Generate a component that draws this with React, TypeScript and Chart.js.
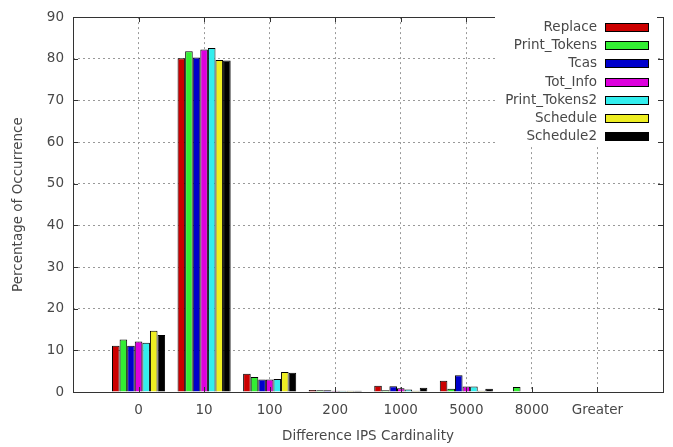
import React, { useEffect, useRef } from "react";
import { Chart, registerables } from "chart.js";

Chart.register(...registerables);

// ---- data ----
const categories = ["0", "10", "100", "200", "1000", "5000", "8000", "Greater"];
const seriesNames = ["Replace", "Print_Tokens", "Tcas", "Tot_Info", "Print_Tokens2", "Schedule", "Schedule2"];
const replace = [11.1, 80.1, 4.4, 0.5, 1.5, 2.7, 0, 0];
const printTokens = [12.6, 81.8, 3.6, 0.4, 0.4, 0.8, 1.2, 0];
const tcas = [11.1, 80.3, 3.0, 0.4, 1.4, 4.0, 0, 0];
const totInfo = [12.1, 82.2, 3.0, 0.3, 0.9, 1.3, 0, 0];
const printTokens2 = [11.8, 82.6, 3.1, 0.3, 0.6, 1.3, 0, 0];
const schedule = [14.7, 79.7, 4.8, 0.3, 0.3, 0.3, 0, 0];
const schedule2 = [13.7, 79.6, 4.6, 0.3, 1.0, 0.8, 0, 0];
const seriesColors = ["#cc0000", "#33ee33", "#0000cc", "#dd00dd", "#33eeee", "#eeee22", "#000000"];
const yMin = 0;
const yMax = 90;
const yStep = 10;
const xTitle = "Difference IPS Cardinality";
const yTitle = "Percentage of Occurrence";

const allSeries = [replace, printTokens, tcas, totInfo, printTokens2, schedule, schedule2];

const FONT = "'DejaVu Sans', 'Liberation Sans', sans-serif";
const FS = 13.5;
const TEXT = "#484848";

const framePlugin = {
  id: "frameTicks",
  afterDatasetsDraw(chart: any) {
    const { ctx, chartArea: a, scales } = chart;
    ctx.save();
    ctx.setLineDash([]);
    ctx.strokeStyle = "#333";
    ctx.lineWidth = 1;
    // inward ticks
    const tl = 5;
    ctx.beginPath();
    const ys = scales.y;
    for (let v = yMin; v <= yMax; v += yStep) {
      const py = Math.round(ys.getPixelForValue(v)) + 0.5;
      ctx.moveTo(a.left, py);
      ctx.lineTo(a.left + tl, py);
      ctx.moveTo(a.right, py);
      ctx.lineTo(a.right - tl, py);
    }
    const xs = scales.x;
    for (let i = 1; i <= categories.length; i++) {
      const px = Math.round(xs.getPixelForValue(i)) + 0.5;
      ctx.moveTo(px, a.bottom);
      ctx.lineTo(px, a.bottom - tl);
      ctx.moveTo(px, a.top);
      ctx.lineTo(px, a.top + tl);
    }
    ctx.stroke();
    ctx.strokeRect(Math.round(a.left) + 0.5, Math.round(a.top) + 0.5, Math.round(a.right - a.left), Math.round(a.bottom - a.top));

    // key
    const ds = chart.data.datasets;
    const textRight = 597;
    const swL = 605;
    const swW = 43;
    const swH = 8;
    const row0 = 27;
    const rowH = 18.2;
    ctx.fillStyle = "#fff";
    ctx.fillRect(495, 17, 162, row0 + rowH * (ds.length - 1) + 9 - 17);
    ctx.font = `${FS}px ${FONT}`;
    ctx.textAlign = "right";
    ctx.textBaseline = "middle";
    ds.forEach((d: any, i: number) => {
      const y = row0 + i * rowH;
      ctx.fillStyle = TEXT;
      ctx.fillText(d.label, textRight, y + 0.5);
      ctx.fillStyle = d.backgroundColor;
      ctx.fillRect(swL, Math.round(y - swH / 2), swW, swH);
      ctx.strokeStyle = "#000";
      ctx.strokeRect(swL + 0.5, Math.round(y - swH / 2) + 0.5, swW, swH);
    });
    ctx.restore();
  },
};

export default function App() {
  const ref = useRef<HTMLCanvasElement>(null);
  useEffect(() => {
    if (!ref.current) return;
    const labels = ["", ...categories, ""];
    const chart = new Chart(ref.current, {
      type: "bar",
      data: {
        labels,
        datasets: allSeries.map((s, i) => ({
          label: seriesNames[i],
          data: [null, ...s, null],
          backgroundColor: seriesColors[i],
          borderColor: "#000",
          borderWidth: 1,
          borderSkipped: "bottom",
          categoryPercentage: 0.81,
          barPercentage: 1.0,
        })),
      },
      options: {
        responsive: false,
        animation: false,
        devicePixelRatio: 1,
        layout: { padding: { top: 12, right: 10, left: 0, bottom: 0 } },
        plugins: {
          legend: { display: false },
          tooltip: { enabled: false },
        },
        scales: {
          x: {
            type: "category",
            offset: false,
            grid: { offset: false, color: "#999", drawTicks: false, lineWidth: 1 },
            border: { display: false, dash: [2, 3] },
            ticks: {
              padding: 10,
              color: TEXT,
              font: { family: FONT, size: FS },
              maxRotation: 0,
              autoSkip: false,
            },
            title: {
              display: true,
              text: xTitle,
              color: TEXT,
              font: { family: FONT, size: FS },
              padding: { top: 0, bottom: 2 },
            },
            afterFit: (s: any) => {
              s.height = 55;
            },
          },
          y: {
            min: yMin,
            max: yMax,
            grid: { color: "#999", drawTicks: false, lineWidth: 1 },
            border: { display: false, dash: [2, 3] },
            ticks: {
              stepSize: yStep,
              padding: 9,
              color: TEXT,
              font: { family: FONT, size: FS },
            },
            title: {
              display: true,
              text: yTitle,
              color: TEXT,
              font: { family: FONT, size: FS },
              padding: { top: 10, bottom: 0 },
            },
            afterFit: (s: any) => {
              s.width = 73;
            },
          },
        },
      },
      plugins: [framePlugin],
    });
    return () => chart.destroy();
  }, []);
  return (
    <div style={{ position: "fixed", left: 0, top: 0, width: 673, height: 447, background: "#fff" }}>
      <canvas ref={ref} width={673} height={447} style={{ display: "block", width: 673, height: 447 }} />
    </div>
  );
}
